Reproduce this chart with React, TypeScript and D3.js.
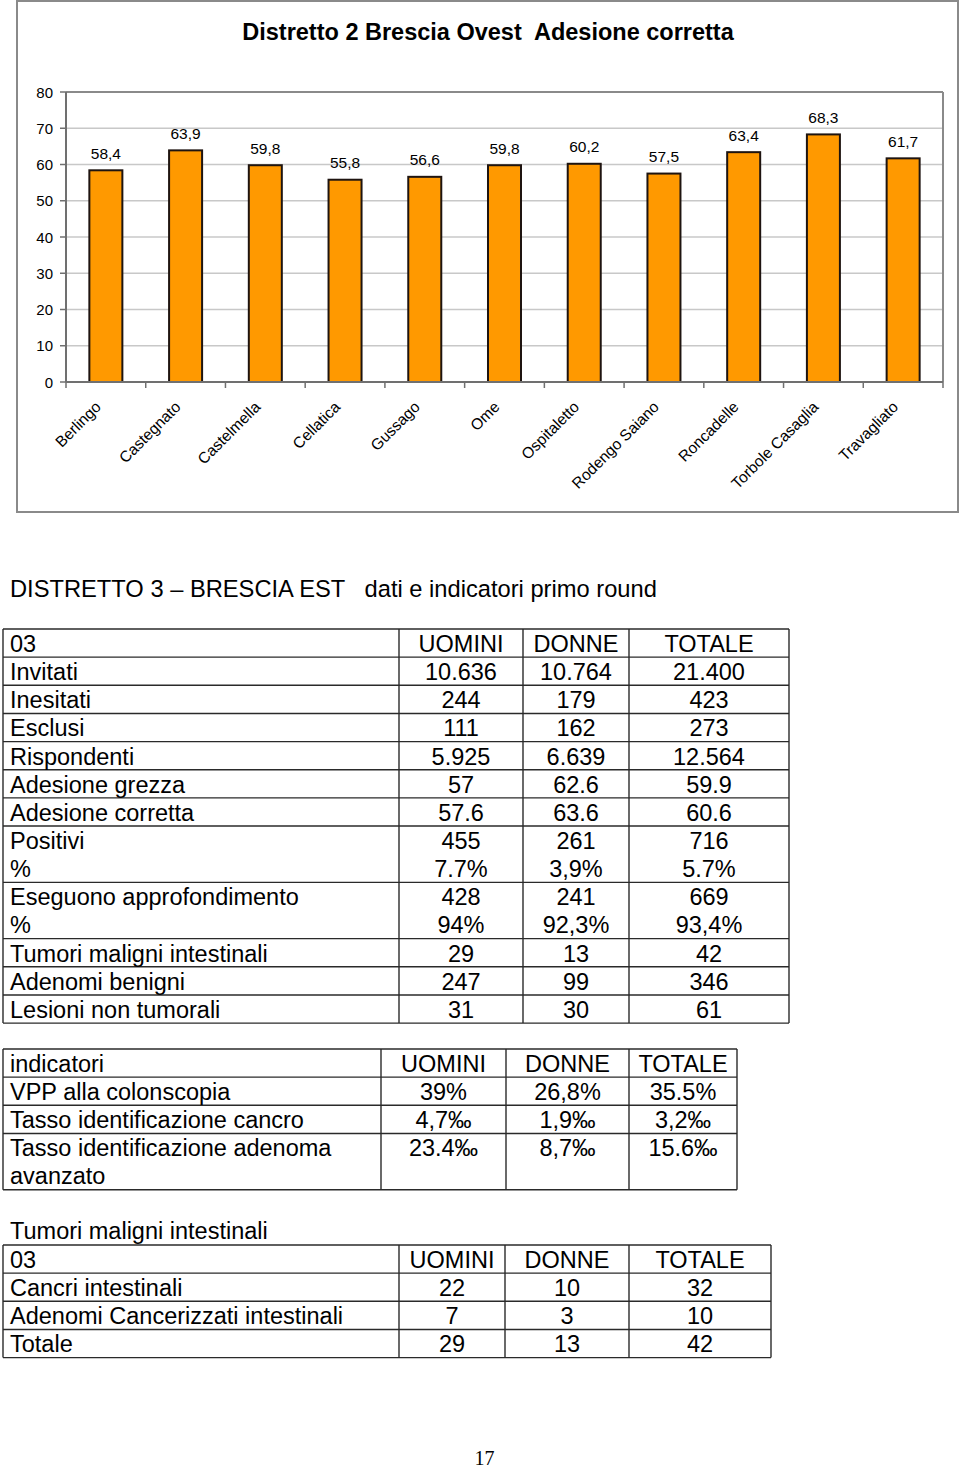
import React from "react";
import * as d3 from "d3";

// ---------- Chart data ----------
const comuni = [
  "Berlingo", "Castegnato", "Castelmella", "Cellatica", "Gussago", "Ome",
  "Ospitaletto", "Rodengo Saiano", "Roncadelle", "Torbole Casaglia", "Travagliato",
];
const adesione = [58.4, 63.9, 59.8, 55.8, 56.6, 59.8, 60.2, 57.5, 63.4, 68.3, 61.7];
const yTicks = [0, 10, 20, 30, 40, 50, 60, 70, 80];
const chartTitle = "Distretto 2 Brescia Ovest  Adesione corretta";

// ---------- Table data ----------
const pageHeading = "DISTRETTO 3 \u2013 BRESCIA EST   dati e indicatori primo round";
const headerCols = ["UOMINI", "DONNE", "TOTALE"];

const t1Header = "03";
const t1Labels = [
  ["Invitati"], ["Inesitati"], ["Esclusi"], ["Rispondenti"], ["Adesione grezza"],
  ["Adesione corretta"], ["Positivi", "%"], ["Eseguono approfondimento", "%"],
  ["Tumori maligni intestinali"], ["Adenomi benigni"], ["Lesioni non tumorali"],
];
const t1Uomini = [["10.636"], ["244"], ["111"], ["5.925"], ["57"], ["57.6"], ["455", "7.7%"], ["428", "94%"], ["29"], ["247"], ["31"]];
const t1Donne = [["10.764"], ["179"], ["162"], ["6.639"], ["62.6"], ["63.6"], ["261", "3,9%"], ["241", "92,3%"], ["13"], ["99"], ["30"]];
const t1Totale = [["21.400"], ["423"], ["273"], ["12.564"], ["59.9"], ["60.6"], ["716", "5.7%"], ["669", "93,4%"], ["42"], ["346"], ["61"]];

const t2Header = "indicatori";
const t2Labels = [["VPP alla colonscopia"], ["Tasso identificazione cancro"], ["Tasso identificazione adenoma", "avanzato"]];
const t2Uomini = [["39%"], ["4,7\u2030"], ["23.4\u2030"]];
const t2Donne = [["26,8%"], ["1,9\u2030"], ["8,7\u2030"]];
const t2Totale = [["35.5%"], ["3,2\u2030"], ["15.6\u2030"]];

const t3Heading = "Tumori maligni intestinali";
const t3Header = "03";
const t3Labels = [["Cancri intestinali"], ["Adenomi Cancerizzati intestinali"], ["Totale"]];
const t3Uomini = [["22"], ["7"], ["29"]];
const t3Donne = [["10"], ["3"], ["13"]];
const t3Totale = [["32"], ["10"], ["42"]];

const pageNumber = "17";

// ---------- helpers ----------
const SANS = "'Liberation Sans', Arial, Helvetica, sans-serif";
const itLocale = d3.formatLocale({ decimal: ",", thousands: ".", grouping: [3], currency: ["", "€"] });
const fmt = itLocale.format(".1f");

type TableProps = {
  top: number;
  cols: number[]; // x boundaries
  header: string[];
  labels: string[][];
  values: string[][][]; // per column, per row, lines
  fontSize: number;
};

function Table({ top, cols, header, labels, values, fontSize }: TableProps) {
  const rowH = 28.15;
  const lineH = 27.5;
  const rowHeights = [rowH, ...labels.map((l, i) => {
    const n = Math.max(l.length, ...values.map((v) => v[i].length));
    return rowH * n;
  })];
  const ys: number[] = [top];
  rowHeights.forEach((h) => ys.push(ys[ys.length - 1] + h));
  const centers = cols.slice(1, -1).map((c, i) => (c + cols[i + 2]) / 2);
  const left = cols[0];
  const right = cols[cols.length - 1];
  const stroke = "#2a2a2a";
  return (
    <g fontFamily={SANS} fontSize={fontSize} fill="#000">
      {ys.map((y, i) => (
        <line key={"h" + i} x1={left} x2={right} y1={y} y2={y} stroke={stroke} strokeWidth={1.4} />
      ))}
      {cols.map((x, i) => (
        <line key={"v" + i} x1={x} x2={x} y1={ys[0]} y2={ys[ys.length - 1]} stroke={stroke} strokeWidth={1.4} />
      ))}
      <text x={left + 7} y={ys[0] + 23}>{header[0]}</text>
      {header.slice(1).map((h, j) => (
        <text key={"hc" + j} x={centers[j]} y={ys[0] + 23} textAnchor="middle">{h}</text>
      ))}
      {labels.map((lines, i) =>
        lines.map((t, k) => (
          <text key={"l" + i + "_" + k} x={left + 7} y={ys[i + 1] + 23 + k * lineH}>{t}</text>
        ))
      )}
      {values.map((col, j) =>
        col.map((lines, i) =>
          lines.map((t, k) => (
            <text key={"c" + j + "_" + i + "_" + k} x={centers[j]} y={ys[i + 1] + 23 + k * lineH} textAnchor="middle">{t}</text>
          ))
        )
      )}
    </g>
  );
}

export default function App() {
  const W = 960;
  const H = 1470;
  // chart geometry
  const plotL = 66, plotR = 943, plotT = 92, plotB = 382;
  const x = d3.scaleBand<string>().domain(comuni).range([plotL, plotR]).paddingInner(0.586).paddingOuter(0.293);
  const y = d3.scaleLinear().domain([0, 80]).range([plotB, plotT]);
  const step = x.step();
  const slotStarts = comuni.map((c) => (x(c) as number) + x.bandwidth() / 2 - step / 2);
  const tickXs = [...slotStarts, plotR];

  return (
    <div style={{ position: "absolute", left: 0, top: 0, width: W, height: H, background: "#fff" }}>
      <svg width={W} height={H} style={{ display: "block" }}>
        <rect x={0} y={0} width={W} height={H} fill="#fff" />
        {/* chart frame */}
        <rect x={17} y={1} width={941} height={511} fill="#fff" stroke="#8a8a8a" strokeWidth={2} />
        <text x={488} y={39.5} textAnchor="middle" fontFamily={SANS} fontWeight="bold" fontSize={23.5} style={{ whiteSpace: "pre" }}>
          {chartTitle}
        </text>
        {/* gridlines */}
        {yTicks.map((t) => (
          <line key={"g" + t} x1={plotL} x2={plotR} y1={y(t)} y2={y(t)} stroke={t === 80 ? "#8a8a8a" : "#c8c8c8"} strokeWidth={t === 80 ? 2 : 1.5} />
        ))}
        <line x1={plotR} x2={plotR} y1={plotT} y2={plotB} stroke="#8a8a8a" strokeWidth={2} />
        {/* bars */}
        {comuni.map((c, i) => (
          <rect key={c} x={x(c)} y={y(adesione[i])} width={x.bandwidth()} height={plotB - y(adesione[i])}
            fill="#FF9900" stroke="#1e1410" strokeWidth={2} />
        ))}
        {/* value labels */}
        {comuni.map((c, i) => (
          <text key={"v" + c} x={(x(c) as number) + x.bandwidth() / 2} y={y(adesione[i]) - 11.5} textAnchor="middle"
            fontFamily={SANS} fontSize={15.5}>{fmt(adesione[i])}</text>
        ))}
        {/* axes */}
        <line x1={plotL} x2={plotL} y1={plotT} y2={plotB} stroke="#707070" strokeWidth={2} />
        <line x1={plotL} x2={plotR} y1={plotB} y2={plotB} stroke="#707070" strokeWidth={2} />
        {yTicks.map((t) => (
          <g key={"yt" + t}>
            <line x1={plotL - 6} x2={plotL} y1={y(t)} y2={y(t)} stroke="#707070" strokeWidth={1.5} />
            <text x={53} y={y(t) + 5.5} textAnchor="end" fontFamily={SANS} fontSize={15}>{t}</text>
          </g>
        ))}
        {tickXs.map((tx, i) => (
          <line key={"xt" + i} x1={tx} x2={tx} y1={plotB} y2={plotB + 6} stroke="#707070" strokeWidth={1.5} />
        ))}
        {comuni.map((c) => {
          const cx = (x(c) as number) + x.bandwidth() / 2;
          return (
            <text key={"xl" + c} transform={`translate(${cx - 4},${408}) rotate(-45)`} textAnchor="end"
              fontFamily={SANS} fontSize={15.5}>{c}</text>
          );
        })}

        {/* page heading */}
        <text x={10} y={597} fontFamily={SANS} fontSize={23.7} style={{ whiteSpace: "pre" }}>{pageHeading}</text>

        <Table top={629} cols={[3, 399, 523, 629, 789]} header={[t1Header, ...headerCols]} labels={t1Labels}
          values={[t1Uomini, t1Donne, t1Totale]} fontSize={23.5} />

        <Table top={1049} cols={[3, 381, 506, 629, 737]} header={[t2Header, ...headerCols]} labels={t2Labels}
          values={[t2Uomini, t2Donne, t2Totale]} fontSize={23.5} />

        <text x={10} y={1239} fontFamily={SANS} fontSize={23.5}>{t3Heading}</text>
        <Table top={1245} cols={[3, 399, 505, 629, 771]} header={[t3Header, ...headerCols]} labels={t3Labels}
          values={[t3Uomini, t3Donne, t3Totale]} fontSize={23.5} />

        <text x={484.5} y={1465} textAnchor="middle" fontFamily="'Liberation Serif', 'Times New Roman', serif" fontSize={20}>{pageNumber}</text>
      </svg>
    </div>
  );
}
